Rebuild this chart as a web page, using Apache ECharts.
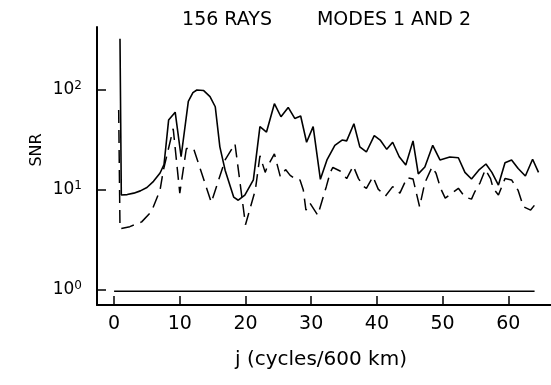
<!DOCTYPE html>
<html>
<head>
<meta charset="utf-8">
<script src="https://cdn.jsdelivr.net/npm/echarts@6/dist/echarts.min.js"></script>
<style>
html,body{margin:0;padding:0;background:#fff;}
#chart{width:551px;height:385px;}
</style>
</head>
<body>
<div id="chart"></div>
<script>
// Solid curve (mode 1)
const jSolid = [0.9, 1.1, 2, 3, 4, 5, 6, 7, 7.6, 8.3, 9.3, 10.2, 11.3, 12.0, 12.6, 13.6, 14.6, 15.4, 16.1, 16.9, 18.2, 18.9, 19.9, 21.2, 22.2, 23.2, 24.4, 25.4, 26.5, 27.5, 28.4, 29.3, 30.3, 31.4, 32.4, 33.6, 34.7, 35.4, 36.5, 37.4, 38.4, 39.6, 40.5, 41.5, 42.4, 43.4, 44.4, 45.5, 46.3, 47.3, 48.5, 49.6, 51.1, 52.4, 53.4, 54.4, 55.5, 56.6, 57.5, 58.5, 59.5, 60.5, 61.5, 62.6, 63.7, 64.6];
const snrSolid = [325, 8.9, 9.0, 9.3, 9.8, 10.6, 12.2, 14.8, 18, 50, 60, 21.5, 77, 94, 100, 99, 86, 68, 27, 15.8, 8.5, 7.9, 8.9, 12.6, 43, 38, 73, 54, 67, 52, 55, 30, 43, 12.8, 20, 28, 31.6, 31, 46, 27, 24, 35, 31.6, 25.5, 30, 21.5, 17.8, 31, 14.5, 17, 28, 20, 21.4, 21, 15, 12.9, 15.8, 18.2, 15, 11.2, 18.7, 20, 16.4, 13.8, 20.3, 15];
// Dashed curve (mode 2)
const jDashed = [0.7, 0.9, 1.2, 2.4, 4.2, 5.7, 7, 7.5, 9, 10, 11, 12.1, 14.8, 16.9, 18.4, 20, 21.5, 22.2, 23.0, 23.3, 24.4, 25.3, 26.1, 26.8, 27.8, 28.3, 28.8, 29.2, 29.8, 31, 32.3, 32.9, 33.3, 34.4, 35.4, 36.4, 37.2, 38, 38.4, 39.4, 40.2, 41.3, 42.4, 43.5, 44.6, 45.5, 46.5, 47.3, 48.4, 49, 49.7, 50.4, 52.4, 53.4, 54.4, 54.9, 55.7, 56.5, 57.3, 57.7, 58.5, 59.5, 60.5, 61.5, 62.3, 63.4, 64.6];
const snrDashed = [63, 4.1, 4.1, 4.3, 4.8, 6.1, 10, 15.8, 41, 9.3, 26, 26, 7.5, 20, 29, 4.5, 10, 22, 15, 17, 23, 13.6, 16, 14, 12.6, 12.6, 10, 6.3, 7.4, 5.6, 10.8, 15, 16.8, 15.5, 13, 17.4, 13, 10.8, 10.4, 13.6, 10.2, 8.7, 10.8, 9.3, 13.3, 12.9, 6.8, 11.8, 17, 14.7, 10.4, 8.3, 10.4, 8.5, 8.1, 9.6, 11.8, 16, 13, 10.4, 8.9, 13, 12.6, 9.9, 6.8, 6.3, 7.9];
// Reference line at SNR = 1
const jBase = [0, 64];
const snrBase = [0.97, 0.97];
// Tick labels
const xTicks = [0, 10, 20, 30, 40, 50, 60];
const yTicks = [1, 10, 100];

const zip = (a, b) => a.map((v, i) => [v, b[i]]);
const FONT = 'DejaVu Sans';

const chart = echarts.init(document.getElementById('chart'), null, {renderer: 'canvas'});
chart.setOption({
  animation: false,
  backgroundColor: '#fff',
  grid: {left: 97, right: 0, top: 27, bottom: 80, containLabel: false},
  xAxis: {
    type: 'value', min: -2.6, max: 66.5,
    axisLine: {onZero: false, lineStyle: {color: '#000', width: 2}},
    axisTick: {show: true, inside: true, length: 9, lineStyle: {color: '#000', width: 1.5}, customValues: xTicks},
    axisLabel: {customValues: xTicks, color: '#000', fontFamily: FONT, fontSize: 19, margin: 10},
    splitLine: {show: false}
  },
  yAxis: {
    type: 'log', logBase: 10, min: 0.708, max: 426.6,
    axisLine: {onZero: false, lineStyle: {color: '#000', width: 2}},
    axisTick: {show: true, inside: true, length: 9, lineStyle: {color: '#000', width: 1.5}, customValues: yTicks},
    axisLabel: {
      customValues: yTicks, color: '#000', fontFamily: FONT, fontSize: 17, margin: 15,
      formatter: v => '10{e|' + Math.round(Math.log10(v)) + '}',
      rich: {e: {fontSize: 12, fontFamily: FONT, color: '#000', verticalAlign: 'top', padding: [0, 0, 8, 0]}}
    },
    splitLine: {show: false}
  },
  series: [
    {type: 'line', data: zip(jSolid, snrSolid), showSymbol: false, lineStyle: {color: '#000', width: 1.6}},
    {type: 'line', data: zip(jDashed, snrDashed), showSymbol: false, lineStyle: {color: '#000', width: 1.5, type: [13, 7]}},
    {type: 'line', data: zip(jBase, snrBase), showSymbol: false, lineStyle: {color: '#000', width: 1.5}}
  ],
  graphic: [
    {type: 'text', x: 227, y: 20, style: {text: '156 RAYS', fontFamily: FONT, fontSize: 19, fill: '#000', align: 'center', verticalAlign: 'middle'}},
    {type: 'text', x: 394, y: 20, style: {text: 'MODES 1 AND 2', fontFamily: FONT, fontSize: 19, fill: '#000', align: 'center', verticalAlign: 'middle'}},
    {type: 'text', x: 37, y: 150, rotation: Math.PI / 2, style: {text: 'SNR', fontFamily: FONT, fontSize: 16, fill: '#000', align: 'center', verticalAlign: 'middle'}},
    {type: 'text', x: 321, y: 360, style: {text: 'j (cycles/600 km)', fontFamily: FONT, fontSize: 20, fill: '#000', align: 'center', verticalAlign: 'middle'}}
  ]
});
</script>
</body>
</html>
